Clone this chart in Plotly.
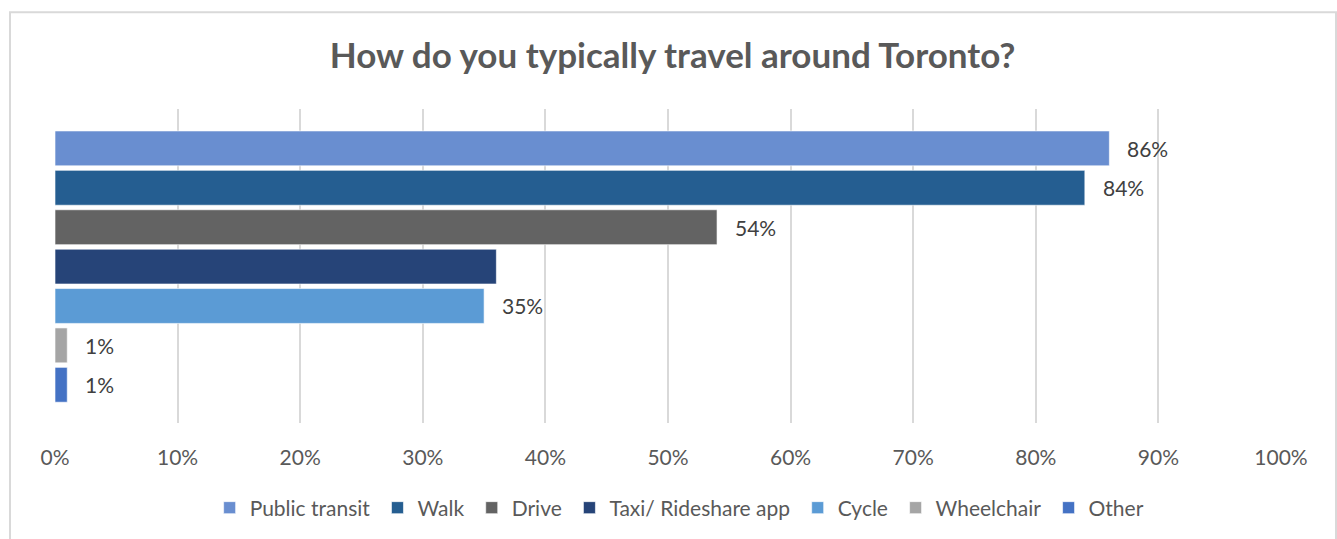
import plotly.graph_objects as go

# Survey answers, one bar per travel mode
modes = ["Public transit", "Walk", "Drive", "Taxi/ Rideshare app", "Cycle", "Wheelchair", "Other"]
shares = [86, 84, 54, 36, 35, 1, 1]
labels = ["86%", "84%", "54%", "", "35%", "1%", "1%"]
colors = ["#698ED0", "#255E91", "#636363", "#264478", "#5B9BD5", "#A5A5A5", "#4472C4"]
tick_vals = [0, 10, 20, 30, 40, 50, 60, 70, 80, 90, 100]
tick_text = [f"{v}%" for v in tick_vals]

FONT = "Lato"
GREY = "#595959"
PAD = "\u2009"  # a little extra room after each legend entry

fig = go.Figure()
for i, (m, v, c) in enumerate(zip(modes, shares, colors)):
    fig.add_trace(go.Bar(
        y=[i], x=[v], name=m + PAD, orientation="h",
        width=0.885,
        marker=dict(color=c, line=dict(color="rgba(255,255,255,0.6)", width=1)),
        hoverinfo="skip",
    ))

# value labels to the right of each bar
annotations = []
for i, (v, t) in enumerate(zip(shares, labels)):
    if t:
        annotations.append(dict(
            x=v, y=i, xref="x", yref="y", text=t, showarrow=False,
            xanchor="left", yanchor="middle", xshift=16,
            font=dict(family=FONT, size=21, color="#404040"),
        ))

fig.update_layout(
    width=1337, height=539,
    margin=dict(l=55, r=56, t=109, b=115),
    paper_bgcolor="white", plot_bgcolor="white",
    barmode="overlay",
    title=dict(
        text="<b>How do you typically travel around Toronto?</b>",
        x=0.503, xanchor="center", y=1 - 56 / 539, yanchor="middle", yref="container",
        font=dict(family=FONT, size=35, color=GREY),
    ),
    xaxis=dict(
        range=[0, 100], tickvals=tick_vals, ticktext=tick_text,
        showgrid=True, gridcolor="#D9D9D9", gridwidth=2,
        zeroline=False, showline=False, ticks="",
        ticklabelstandoff=20,
        tickfont=dict(family=FONT, size=21, color=GREY),
        fixedrange=True,
    ),
    yaxis=dict(
        range=[6.97, -1.0], showticklabels=False, showgrid=False,
        zeroline=False, showline=False, fixedrange=True,
    ),
    legend=dict(
        orientation="h", x=0.5103, xanchor="center", y=(424 - 508) / 315, yanchor="middle",
        font=dict(family=FONT, size=21, color=GREY),
        traceorder="normal", itemwidth=30,
    ),
    annotations=annotations,
    shapes=[dict(
        type="rect", xref="paper", yref="paper",
        x0=-45 / 1226, x1=(1336 - 55) / 1226, y0=-0.5, y1=(424 - 12) / 315,
        line=dict(color="#D9D9D9", width=2), fillcolor="rgba(0,0,0,0)", layer="below",
    )],
)

fig.write_html("out.html")
